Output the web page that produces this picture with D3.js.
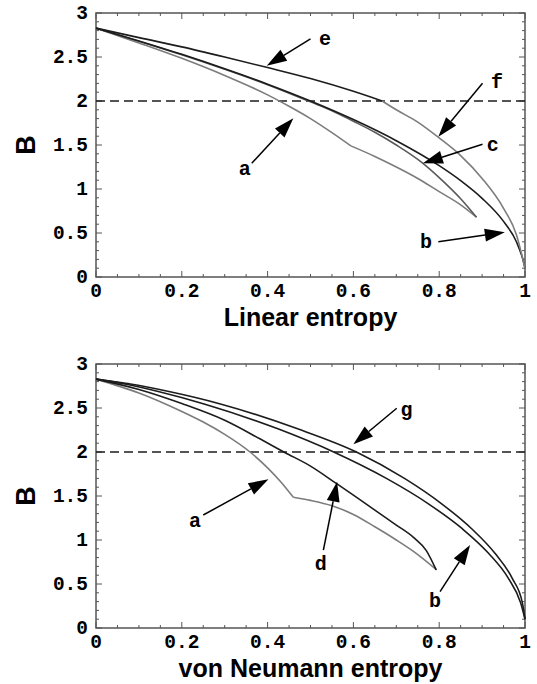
<!DOCTYPE html>
<html>
<head>
<meta charset="utf-8">
<script src="https://cdn.jsdelivr.net/npm/d3@7"></script>
<style>
    body { margin: 0; background: #fff; }
</style>
</head>
<body>
<div id="app"></div>
<script>
// ---- data ----
// top panel: B vs linear entropy
const linA1 = [[0, 2.828], [0.1, 2.66], [0.2, 2.485], [0.3, 2.29], [0.4, 2.07], [0.45, 1.94], [0.5, 1.80], [0.55, 1.64], [0.594, 1.49]];
const linA2 = [[0.594, 1.49], [0.65, 1.37], [0.7, 1.25], [0.75, 1.12], [0.8, 0.97], [0.85, 0.82], [0.887, 0.68]];
const linB = [[0, 2.828], [0.1, 2.683], [0.2, 2.53], [0.3, 2.366], [0.4, 2.191], [0.5, 2.0], [0.6, 1.789], [0.7, 1.549], [0.8, 1.265], [0.85, 1.095], [0.9, 0.894], [0.95, 0.632], [0.98, 0.40], [0.995, 0.2], [1, 0.1]];
const linC = [[0, 2.828], [0.1, 2.68], [0.2, 2.525], [0.3, 2.36], [0.4, 2.185], [0.5, 1.99], [0.55, 1.89], [0.6, 1.77], [0.65, 1.645], [0.7, 1.50], [0.76, 1.30], [0.8, 1.13], [0.85, 0.89], [0.887, 0.68]];
const linE = [[0, 2.828], [0.1, 2.72], [0.2, 2.615], [0.3, 2.50], [0.4, 2.38], [0.5, 2.255], [0.6, 2.11], [0.667, 2.0]];
const linF = [[0.667, 2.0], [0.7, 1.90], [0.75, 1.76], [0.8, 1.58], [0.85, 1.38], [0.9, 1.12], [0.95, 0.78], [0.98, 0.48], [1, 0.1]];

// bottom panel: B vs von Neumann entropy
const vnA1 = [[0, 2.828], [0.1, 2.67], [0.2, 2.46], [0.25, 2.34], [0.3, 2.20], [0.359, 2.0], [0.4, 1.82], [0.43, 1.665], [0.46, 1.485]];
const vnA2 = [[0.46, 1.485], [0.5, 1.45], [0.55, 1.39], [0.6, 1.29], [0.65, 1.15], [0.7, 1.0], [0.74, 0.87], [0.794, 0.66]];
const vnB = [[0, 2.828], [0.038, 2.80], [0.068, 2.772], [0.145, 2.687], [0.252, 2.546], [0.424, 2.263], [0.554, 2.0], [0.678, 1.697], [0.774, 1.414], [0.853, 1.131], [0.915, 0.849], [0.961, 0.566], [0.99, 0.283], [1, 0.1]];
const vnD = [[0, 2.828], [0.1, 2.71], [0.2, 2.55], [0.3, 2.36], [0.382, 2.15], [0.44, 1.995], [0.5, 1.84], [0.561, 1.64], [0.6, 1.51], [0.65, 1.34], [0.7, 1.17], [0.74, 1.03], [0.77, 0.88], [0.793, 0.66]];
const vnG = [[0, 2.828], [0.04, 2.80], [0.08, 2.772], [0.17, 2.687], [0.29, 2.546], [0.47, 2.263], [0.607, 2.0], [0.72, 1.697], [0.805, 1.414], [0.875, 1.131], [0.93, 0.849], [0.97, 0.566], [0.994, 0.283], [1, 0.1]];

// arrows: label, label x, label y, tail x, tail y, tip x, tip y (data units)
const linNotes = [
    ["e", 0.534, 2.693, 0.500, 2.705, 0.398, 2.401],
    ["f", 0.935, 2.201, 0.901, 2.201, 0.798, 1.594],
    ["c", 0.925, 1.492, 0.901, 1.508, 0.762, 1.292],
    ["b", 0.769, 0.383, 0.798, 0.401, 0.953, 0.508],
    ["a", 0.347, 1.216, 0.363, 1.292, 0.460, 1.803]
];
const vnNotes = [
    ["a", 0.231, 1.208, 0.250, 1.284, 0.402, 1.690],
    ["d", 0.524, 0.716, 0.530, 0.886, 0.562, 1.663],
    ["g", 0.724, 2.469, 0.701, 2.497, 0.600, 2.088],
    ["b", 0.790, 0.299, 0.802, 0.413, 0.872, 0.943]
];

const xTicks = [0, 0.2, 0.4, 0.6, 0.8, 1];
const xTickLabels = ["0", "0.2", "0.4", "0.6", "0.8", "1"];
const yTicks = [0, 0.5, 1, 1.5, 2, 2.5, 3];
const yTickLabels = ["0", "0.5", "1", "1.5", "2", "2.5", "3"];
const bellLimit = 2;

// ---- layout ----
const W = 537, H = 684;
const plotL = 96, plotW = 429, plotH = 264;
const grey = "#7c7c7c", dark = "#1c1c1c", frame = "#555";
const monoFont = "'Liberation Mono', 'Courier New', monospace";
const sansFont = "'Liberation Sans', Arial, sans-serif";

const svg = d3.select("#app").append("svg")
    .attr("width", W)
    .attr("height", H)
    .style("display", "block");

function drawPanel(top, title, titleY, series, notes) {
    const x = d3.scaleLinear().domain([0, 1]).range([plotL, plotL + plotW]);
    const y = d3.scaleLinear().domain([0, 3]).range([top + plotH, top]);
    const g = svg.append("g");

    // frame
    g.append("rect")
        .attr("x", x(0)).attr("y", y(3))
        .attr("width", plotW).attr("height", plotH)
        .style("fill", "none").style("stroke", frame).style("stroke-width", 1.5);

    // ticks, all pointing inward
    const xMinor = d3.range(0, 1.0001, 0.05);
    const yMinor = d3.range(0, 3.0001, 0.1);
    const ticks = [];
    xMinor.forEach(function (v) {
        const major = xTicks.some(t => Math.abs(t - v) < 1e-6);
        const len = major ? 6 : 3;
        ticks.push([x(v), y(0), x(v), y(0) - len]);
        ticks.push([x(v), y(3), x(v), y(3) + len]);
    });
    yMinor.forEach(function (v) {
        const major = yTicks.some(t => Math.abs(t - v) < 1e-6);
        const len = major ? 6 : 3;
        ticks.push([x(0), y(v), x(0) + len, y(v)]);
        ticks.push([x(1), y(v), x(1) - len, y(v)]);
    });
    g.selectAll(".tick").data(ticks).enter().append("line")
        .attr("x1", d => d[0]).attr("y1", d => d[1])
        .attr("x2", d => d[2]).attr("y2", d => d[3])
        .style("stroke", frame).style("stroke-width", 1);

    // tick labels
    g.selectAll(".xl").data(xTicks).enter().append("text")
        .attr("x", d => x(d))
        .attr("y", y(0) + 20)
        .attr("text-anchor", "middle")
        .style("font-family", monoFont).style("font-weight", "bold").style("font-size", "19.5px")
        .text((d, i) => xTickLabels[i]);
    g.selectAll(".yl").data(yTicks).enter().append("text")
        .attr("x", x(0) - 8)
        .attr("y", d => y(d))
        .attr("dy", "0.33em")
        .attr("text-anchor", "end")
        .style("font-family", monoFont).style("font-weight", "bold").style("font-size", "19.5px")
        .text((d, i) => yTickLabels[i]);

    // axis titles
    g.append("text")
        .attr("x", x(0.5))
        .attr("y", titleY)
        .attr("text-anchor", "middle")
        .style("font-family", sansFont).style("font-weight", "bold").style("font-size", "25px")
        .text(title);
    g.append("text")
        .attr("transform", "translate(35," + y(1.5) + ") rotate(-90)")
        .attr("text-anchor", "middle")
        .style("font-family", sansFont).style("font-weight", "bold").style("font-size", "27px")
        .text("B");

    // dashed B = 2 line
    g.append("line")
        .attr("x1", x(0)).attr("x2", x(1))
        .attr("y1", y(bellLimit)).attr("y2", y(bellLimit))
        .style("stroke", dark).style("stroke-width", 1.5)
        .style("stroke-dasharray", "9,5");

    // curves
    const line = d3.line()
        .x(d => x(d[0]))
        .y(d => y(d[1]))
        .curve(d3.curveMonotoneX);
    series.forEach(function (s) {
        g.append("path")
            .attr("d", line(s.data))
            .style("fill", "none")
            .style("stroke", s.color)
            .style("stroke-width", 1.6);
    });

    // arrows and letters
    notes.forEach(function (n) {
        const tx = x(n[3]), ty = y(n[4]);
        const px = x(n[5]), py = y(n[6]);
        const ang = Math.atan2(py - ty, px - tx);
        const headL = 20, headW = 6.5;
        const bx = px - headL * Math.cos(ang), by = py - headL * Math.sin(ang);
        g.append("line")
            .attr("x1", tx).attr("y1", ty).attr("x2", bx).attr("y2", by)
            .style("stroke", "#000").style("stroke-width", 1.5);
        const pts = [
            [px, py],
            [bx + headW * Math.sin(ang), by - headW * Math.cos(ang)],
            [bx - headW * Math.sin(ang), by + headW * Math.cos(ang)]
        ];
        g.append("polygon")
            .attr("points", pts.map(p => p.join(",")).join(" "))
            .style("fill", "#000");
        g.append("text")
            .attr("x", x(n[1]))
            .attr("y", y(n[2]))
            .attr("dy", "0.25em")
            .attr("text-anchor", "middle")
            .style("font-family", monoFont).style("font-weight", "bold").style("font-size", "20px")
            .text(n[0]);
    });
}

drawPanel(13, "Linear entropy", 326, [
    {data: linA1, color: grey},
    {data: linA2, color: grey},
    {data: linC, color: "#5a5a5a"},
    {data: linB, color: dark},
    {data: linF, color: grey},
    {data: linE, color: dark}
], linNotes);

drawPanel(364, "von Neumann entropy", 677, [
    {data: vnA1, color: grey},
    {data: vnA2, color: grey},
    {data: vnD, color: dark},
    {data: vnB, color: dark},
    {data: vnG, color: dark}
], vnNotes);
</script>
</body>
</html>
